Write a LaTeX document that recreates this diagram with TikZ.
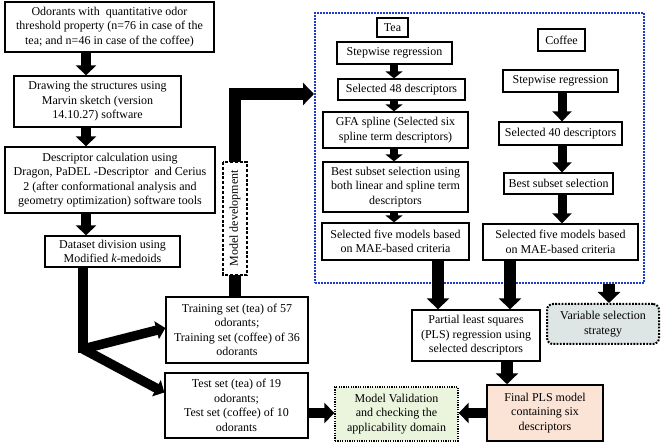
\documentclass[tikz,border=0pt]{standalone}
\usepackage{fontspec}
\setmainfont{Liberation Serif}
\usetikzlibrary{arrows.meta,calc}
\definecolor{grpblue}{RGB}{30,60,200}
\definecolor{pinkfill}{RGB}{251,227,214}
\definecolor{greenfill}{RGB}{235,245,222}
\definecolor{grayfill}{RGB}{222,229,229}
\begin{document}
\begin{tikzpicture}[x=1pt,y=-1pt,
  every node/.style={font=\fontsize{12}{14.5}\selectfont},
  box/.style={draw, line width=1.3pt, align=center, inner sep=0pt, fill=white},
  bigarr/.style={line width=10pt, -{Triangle[length=10pt,width=20pt]}},
  brarr/.style={line width=9.5pt, -{Triangle[length=9pt,width=18pt]}},
  teaarr/.style={line width=8pt, -{Triangle[length=7pt,width=17pt]}},
  cofarr/.style={line width=9pt, -{Triangle[length=10pt,width=19pt]}},
  wideline/.style={line width=9.5pt},
  widearr/.style={line width=12pt, -{Triangle[length=11pt,width=22pt]}}]
\useasboundingbox (0,0) rectangle (661,443);

% left column
\node[box, minimum width=209, minimum height=50] (odor) at (109.5,27)
  {Odorants with\ \ quantitative odor\\threshold property (n=76 in case of the\\tea; and n=46 in case of the coffee)};
\node[box, minimum width=167, minimum height=51] (drw) at (97.5,101.5)
  {Drawing the structures using\\Marvin sketch (version\\14.10.27) software};
\node[box, minimum width=210, minimum height=66] (desc) at (110,180)
  {Descriptor calculation using\\Dragon, PaDEL -Descriptor\ \ and Cerius\\2 (after conformational analysis and\\geometry optimization) software tools};
\node[box, minimum width=135, minimum height=31] (ds) at (112.5,251.5)
  {Dataset division using\\Modified \textit{k}-medoids};
\node[box, minimum width=142, minimum height=66] (train) at (237,330)
  {Training set (tea) of 57\\odorants;\\Training set (coffee) of 36\\odorants};
\node[box, minimum width=143, minimum height=65] (test) at (236.5,405.5)
  {Test set (tea) of 19\\odorants;\\Test set (coffee) of 10\\odorants};

\coordinate (col) at (86,0);
\coordinate (split) at (83,349);
\coordinate (mdBend) at (235,94);

% group box
\node[draw=grpblue, line width=2pt, dash pattern=on 1.6pt off 1.4pt, minimum width=329, minimum height=270, inner sep=0pt] (grp) at (479.5,148) {};

% tea column
\node[box, minimum width=31, minimum height=19] (tea) at (392.5,27.5) {Tea};
\node[box, minimum width=115, minimum height=22] (teaStep) at (394.5,53) {Stepwise regression};
\node[box, minimum width=127, minimum height=21] (tea48) at (401.5,89.5) {Selected 48 descriptors};
\node[box, minimum width=145, minimum height=36] (teaGFA) at (395.5,130) {GFA spline (Selected six\\spline term descriptors)};
\node[box, minimum width=145, minimum height=50] (teaBest) at (395.5,187) {Best subset selection using\\both linear and spline term\\descriptors};
\node[box, minimum width=147, minimum height=37] (teaFive) at (395.5,241.5) {Selected five models based\\on MAE-based criteria};
\coordinate (teacol) at (394,0);

% coffee column
\node[box, minimum width=47, minimum height=22] (cof) at (561.5,40) {Coffee};
\node[box, minimum width=115, minimum height=22] (cofStep) at (560.5,81) {Stepwise regression};
\node[box, minimum width=123, minimum height=23] (cof40) at (560.5,133.5) {Selected 40 descriptors};
\node[box, minimum width=109, minimum height=21] (cofBest) at (558.5,183.5) {Best subset selection};
\node[box, minimum width=155, minimum height=36] (cofFive) at (560.5,242) {Selected five models based\\on MAE-based criteria};
\coordinate (cofcol) at (562,0);

% bottom right
\node[box, minimum width=128, minimum height=51] (pls) at (476,335.5) {Partial least squares\\(PLS) regression using\\selected descriptors};
\node[box, fill=grayfill, rounded corners=6pt, line width=2pt, dash pattern=on 1.8pt off 1.4pt, minimum width=112, minimum height=40] (var) at (603,324) {Variable selection\\strategy};
\node[box, fill=pinkfill, line width=1.5pt, minimum width=116, minimum height=56] (final) at (545,413) {Final PLS model\\containing six\\descriptors};
\node[box, fill=greenfill, line width=1.3pt, dash pattern=on 1.2pt off 1.2pt, minimum width=123, minimum height=54] (mv) at (396.5,414) {Model Validation\\and checking the\\applicability domain};

% left column arrows
\draw[bigarr] (odor.south -| col) -- (drw.north -| col);
\draw[bigarr] (drw.south -| col) -- (desc.north -| col);
\draw[bigarr] (desc.south -| col) -- (ds.north -| col);
\draw[brarr] (split) -- ([yshift=2pt]train.west);
\draw[brarr] (split) -- ([yshift=13pt]test.west);
\draw[wideline] (ds.south -| split) -- ([yshift=-4pt]split);

% model development path
\draw[widearr, line join=miter] (train.north -| mdBend) -- (mdBend) -- (grp.west |- mdBend);
\node[box, rotate=90, line width=1.2pt, dash pattern=on 3pt off 1.8pt, minimum width=113, minimum height=24] (md) at (235,218.5) {Model development};

% tea arrows
\draw[teaarr] (teaStep.south -| teacol) -- (tea48.north -| teacol);
\draw[teaarr] (tea48.south -| teacol) -- (teaGFA.north -| teacol);
\draw[teaarr] (teaGFA.south -| teacol) -- (teaBest.north -| teacol);
\draw[teaarr] (teaBest.south -| teacol) -- (teaFive.north -| teacol);

% coffee arrows
\draw[cofarr] (cofStep.south -| cofcol) -- (cof40.north -| cofcol);
\draw[cofarr] (cof40.south -| cofcol) -- (cofBest.north -| cofcol);
\draw[cofarr] (cofBest.south -| cofcol) -- (cofFive.north -| cofcol);

% to PLS and variable selection
\coordinate (a1) at (438,0);
\coordinate (a2) at (510,0);
\coordinate (a3) at (609,0);
\coordinate (a4) at (507,0);
\coordinate (hy) at (0,413);
\draw[widearr] (teaFive.south -| a1) -- (pls.north -| a1);
\draw[widearr] (cofFive.south -| a2) -- (pls.north -| a2);
\draw[widearr] (grp.south -| a3) -- (var.north -| a3);
\draw[widearr] (pls.south -| a4) -- (final.north -| a4);
\draw[bigarr] (final.west |- hy) -- (mv.east |- hy);
\draw[bigarr] (test.east |- hy) -- (mv.west |- hy);
\end{tikzpicture}
\end{document}
